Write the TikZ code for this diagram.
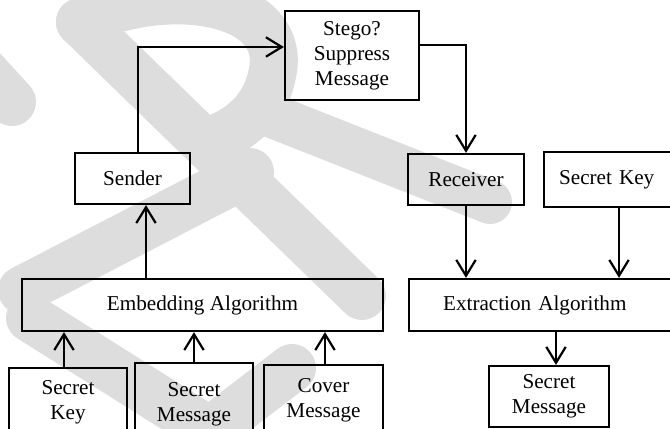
\documentclass[tikz,border=0pt]{standalone}
\usepackage{fontspec}
\setmainfont{Liberation Serif}
\usetikzlibrary{arrows.meta, positioning, calc}
\definecolor{wmGrey}{HTML}{DDDDDD}
\newcommand{\pxu}{0.567pt}

\begin{document}
\begin{tikzpicture}[x=0.567pt, y=-0.567pt,
   box/.style={rectangle, draw=black, line width=1.25pt, align=center,
               font=\fontsize{12pt}{14.2pt}\selectfont, inner sep=0pt},
   cutbox/.style={box, align=left, anchor=west, inner xsep=0pt},
   arr/.style={line width=1.25pt, -{Straight Barb[length=9pt, width=11pt, line width=1.25pt]}},
   wm/.style={wmGrey, line width=48*\pxu, line cap=round}]

\clip (0,0) rectangle (670,429);

% watermark
\draw[wm] (80,22) -- (362,296);
\draw[wm] (80,22) .. controls (170,-20) and (290,0) .. (272,75)
          .. controls (265,110) and (240,130) .. (212,140);
\draw[wm, line width=44*\pxu] (262,112) -- (490,202);
\draw[wm] (440,-30) arc[start angle=180, end angle=360, radius=95];
\draw[wm] (250,172) -- (22,290);
\draw[wm] (30,318) -- (240,450);
\draw[wm] (292,368) -- (185,450);
\draw[wm] (-40,45) -- (12,102);

% sender side
\node[box, minimum width=134*\pxu, minimum height=89*\pxu] (stego) at (352,55.5)
     {Stego?\\Suppress\\Message};
\node[box, minimum width=115*\pxu, minimum height=51*\pxu] (sender) at (132.5,178.5) {Sender};
\node[box, minimum width=361*\pxu, minimum height=52*\pxu] (embed) at (202.5,305)
     {Embedding Algorithm};
\node[box, minimum width=118*\pxu, minimum height=68*\pxu] (keyL) at (68,402) {Secret\\Key};
\node[box, minimum width=118*\pxu, minimum height=82*\pxu] (msgL) at (194,404) {Secret\\Message};
\node[box, minimum width=119*\pxu, minimum height=70*\pxu] (cover) at (323.5,400) {Cover\\Message};

% receiver side
\node[box, minimum width=116*\pxu, minimum height=51*\pxu] (receiver) at (466,179.5) {Receiver};
\node[cutbox, text width=130*\pxu, inner xsep=15*\pxu, minimum height=55*\pxu] (keyR)
     at (543,179.5) {Secret Key};
\node[cutbox, text width=260*\pxu, inner xsep=34*\pxu, minimum height=52*\pxu] (extract)
     at (408,305) {Extraction Algorithm};
\node[box, minimum width=120*\pxu, minimum height=61*\pxu] (msgR) at (549,396.5) {Secret\\Message};

% connectors
\draw[arr] ([xshift=5.5*\pxu]sender.north) |- ([yshift=8.5*\pxu]stego.west);
\draw[arr] ([yshift=10.5*\pxu]stego.east) -| (receiver.north);
\draw[arr] ([xshift=13.5*\pxu]sender.south |- embed.north) -- ([xshift=13.5*\pxu]sender.south);
\draw[arr] ([xshift=-4*\pxu]keyL.north) -- ([xshift=-4*\pxu]keyL.north |- embed.south);
\draw[arr] (msgL.north) -- (msgL.north |- embed.south);
\draw[arr] ([xshift=1.5*\pxu]cover.north) -- ([xshift=1.5*\pxu]cover.north |- embed.south);
\draw[arr] (receiver.south) -- (receiver.south |- extract.north);
\draw[arr] ([xshift=76*\pxu]keyR.south west) -- ([xshift=76*\pxu]keyR.south west |- extract.north);
\draw[arr] ([xshift=7*\pxu]msgR.north |- extract.south) -- ([xshift=7*\pxu]msgR.north);
\end{tikzpicture}
\end{document}
